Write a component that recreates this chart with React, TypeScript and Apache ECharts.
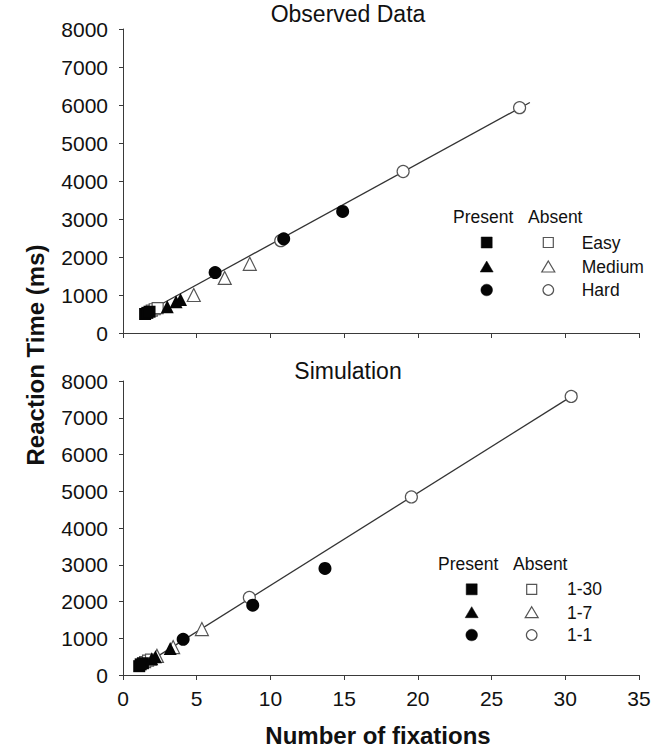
import React, { useEffect, useRef } from "react";
import * as echarts from "echarts";

// ---------- data (fixations, reaction time ms) ----------
const xTickLabels = ["0", "5", "10", "15", "20", "25", "30", "35"];
const yTickLabels = ["0", "1000", "2000", "3000", "4000", "5000", "6000", "7000", "8000"];

// Observed data
const obsEasyPresent = [[1.5, 500], [1.65, 530], [1.8, 560]];
const obsEasyAbsent = [[1.95, 590], [2.15, 625], [2.35, 655]];
const obsMediumPresent = [[3.0, 690], [3.6, 820], [3.9, 880]];
const obsMediumAbsent = [[4.8, 1000], [6.9, 1450], [8.6, 1820]];
const obsHardPresent = [[6.25, 1590], [10.9, 2480], [14.9, 3200]];
const obsHardAbsent = [[10.7, 2430], [19.0, 4250], [26.9, 5930]];
const obsFit = [[1.5, 525], [27.6, 6067]];

// Simulation
const sim30Present = [[1.1, 240], [1.2, 290], [1.35, 320]];
const sim30Absent = [[1.5, 350], [1.7, 390], [1.9, 420]];
const sim7Present = [[1.95, 440], [2.2, 500], [3.2, 720]];
const sim7Absent = [[2.3, 520], [3.4, 760], [5.35, 1250]];
const sim1Present = [[4.08, 970], [8.8, 1900], [13.7, 2900]];
const sim1Absent = [[8.57, 2110], [19.56, 4845], [30.4, 7580]];
const simFit = [[1.1, 193], [30.8, 7678]];

const obsLegendLabels = ["Easy", "Medium", "Hard"];
const simLegendLabels = ["1-30", "1-7", "1-1"];
const panelTitles = ["Observed Data", "Simulation"];

const FONT = '"Liberation Sans", Arial, Helvetica, sans-serif';
const AXIS_COLOR = "#3a3a3a";
const OPEN_BORDER = "#555";

function scatter(name: string, data: number[][], idx: number, symbol: string, filled: boolean) {
  const size = symbol === "rect" ? (filled ? 12 : 11) : symbol === "triangle" ? 13 : filled ? 13 : 12;
  return {
    name,
    type: "scatter",
    xAxisIndex: idx,
    yAxisIndex: idx,
    data,
    symbol,
    symbolSize: size,
    z: filled ? 4 : 3,
    itemStyle: filled
      ? { color: "#050505", opacity: 1 }
      : { color: "#ffffff", borderColor: OPEN_BORDER, borderWidth: 1.2, opacity: 1 },
  };
}

function fitLine(name: string, data: number[][], idx: number) {
  return {
    name,
    type: "line",
    xAxisIndex: idx,
    yAxisIndex: idx,
    data,
    symbol: "none",
    z: 2,
    lineStyle: { color: "#333", width: 1.3 },
  };
}

function legendMarker(kind: string, filled: boolean, cx: number, cy: number) {
  const style = filled
    ? { fill: "#050505", stroke: "#050505", lineWidth: 0.5 }
    : { fill: "#ffffff", stroke: OPEN_BORDER, lineWidth: 1.2 };
  if (kind === "rect") {
    const s = filled ? 11 : 10;
    return { type: "rect", shape: { x: cx - s / 2, y: cy - s / 2, width: s, height: s }, style };
  }
  if (kind === "triangle") {
    return {
      type: "polygon",
      shape: { points: [[cx, cy - 6], [cx + 6.5, cy + 5], [cx - 6.5, cy + 5]] },
      style,
    };
  }
  return { type: "circle", shape: { cx, cy, r: filled ? 5.8 : 5.3 }, style };
}

function legendBlock(
  headerX: number,
  headerY: number,
  col1: number,
  col2: number,
  labelX: number,
  rows: number[],
  labels: string[]
) {
  const els: any[] = [];
  const tstyle = (text: string) => ({
    text,
    fontSize: 17.5,
    fontFamily: FONT,
    fill: "#111",
    align: "left",
    verticalAlign: "middle",
  });
  els.push({ type: "text", x: headerX, y: headerY, style: tstyle("Present") });
  els.push({ type: "text", x: headerX + 75, y: headerY, style: tstyle("Absent") });
  const kinds = ["rect", "triangle", "circle"];
  kinds.forEach((k, i) => {
    els.push(legendMarker(k, true, col1, rows[i]));
    els.push(legendMarker(k, false, col2, rows[i]));
    els.push({ type: "text", x: labelX, y: rows[i], style: tstyle(labels[i]) });
  });
  return els;
}

export default function App() {
  const ref = useRef<HTMLDivElement>(null);

  useEffect(() => {
    if (!ref.current) return;
    const chart = echarts.init(ref.current, undefined, { renderer: "svg" });

    const xAxisBase = (idx: number, showLabels: boolean) => ({
      type: "value",
      gridIndex: idx,
      min: 0,
      max: 35,
      interval: 5,
      axisLine: { show: true, onZero: false, lineStyle: { color: AXIS_COLOR, width: 1 } },
      axisTick: { show: true, length: 5, lineStyle: { color: AXIS_COLOR } },
      splitLine: { show: false },
      axisLabel: {
        show: showLabels,
        fontSize: 21,
        fontFamily: FONT,
        color: "#111",
        margin: 13,
        formatter: (v: number) => xTickLabels[Math.round(v / 5)] ?? String(v),
      },
    });
    const yAxisBase = (idx: number) => ({
      type: "value",
      gridIndex: idx,
      min: 0,
      max: 8000,
      interval: 1000,
      axisLine: { show: true, onZero: false, lineStyle: { color: AXIS_COLOR, width: 1 } },
      axisTick: { show: true, length: 4, lineStyle: { color: AXIS_COLOR } },
      splitLine: { show: false },
      axisLabel: {
        fontSize: 21,
        fontFamily: FONT,
        color: "#111",
        margin: 15,
        formatter: (v: number) => yTickLabels[Math.round(v / 1000)] ?? String(v),
      },
    });

    const titleStyle = (text: string) => ({
      text,
      fontSize: 23,
      fontFamily: FONT,
      fill: "#111",
      align: "center",
      verticalAlign: "middle",
    });

    const option: any = {
      animation: false,
      backgroundColor: "#ffffff",
      grid: [
        { left: 123, right: 18, top: 29, height: 304 },
        { left: 123, right: 18, top: 381, height: 294 },
      ],
      xAxis: [xAxisBase(0, false), xAxisBase(1, true)],
      yAxis: [yAxisBase(0), yAxisBase(1)],
      series: [
        fitLine("Observed fit", obsFit, 0),
        scatter("Easy absent", obsEasyAbsent, 0, "rect", false),
        scatter("Medium absent", obsMediumAbsent, 0, "triangle", false),
        scatter("Hard absent", obsHardAbsent, 0, "circle", false),
        scatter("Easy present", obsEasyPresent, 0, "rect", true),
        scatter("Medium present", obsMediumPresent, 0, "triangle", true),
        scatter("Hard present", obsHardPresent, 0, "circle", true),
        fitLine("Simulation fit", simFit, 1),
        scatter("1-30 absent", sim30Absent, 1, "rect", false),
        scatter("1-7 absent", sim7Absent, 1, "triangle", false),
        scatter("1-1 absent", sim1Absent, 1, "circle", false),
        scatter("1-30 present", sim30Present, 1, "rect", true),
        scatter("1-7 present", sim7Present, 1, "triangle", true),
        scatter("1-1 present", sim1Present, 1, "circle", true),
      ],
      graphic: [
        { type: "text", x: 348, y: 14, style: titleStyle(panelTitles[0]) },
        { type: "text", x: 348, y: 371, style: titleStyle(panelTitles[1]) },
        {
          type: "text",
          x: 35,
          y: 355,
          rotation: Math.PI / 2,
          style: {
            text: "Reaction Time (ms)",
            fontSize: 24,
            fontWeight: "bold",
            fontFamily: FONT,
            fill: "#111",
            align: "center",
            verticalAlign: "middle",
          },
        },
        {
          type: "text",
          x: 378,
          y: 735,
          style: {
            text: "Number of fixations",
            fontSize: 24,
            fontWeight: "bold",
            fontFamily: FONT,
            fill: "#111",
            align: "center",
            verticalAlign: "middle",
          },
        },
        ...legendBlock(453, 217, 486.7, 548.3, 581.7, [242.5, 267, 290], obsLegendLabels),
        ...legendBlock(438, 564, 471.7, 531.7, 567, [589.3, 612.7, 635], simLegendLabels),
      ],
    };

    chart.setOption(option);
    return () => chart.dispose();
  }, []);

  return (
    <div
      ref={ref}
      style={{ position: "fixed", left: 0, top: 0, width: 657, height: 751, background: "#fff" }}
    />
  );
}
